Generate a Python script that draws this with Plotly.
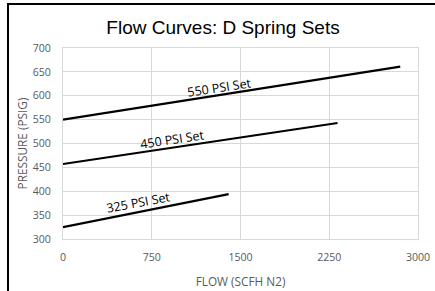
import plotly.graph_objects as go

# Data
flow_550 = [0, 750, 1500, 2250, 2850]
pres_550 = [550, 579, 608, 637, 661]

flow_450 = [0, 750, 1500, 2320]
pres_450 = [457, 485, 513, 543]

flow_325 = [0, 750, 1400]
pres_325 = [325, 362, 394]

x_ticks = [0, 750, 1500, 2250, 3000]
y_ticks = [300, 350, 400, 450, 500, 550, 600, 650, 700]

series_labels = ["550 PSI Set", "450 PSI Set", "325 PSI Set"]
label_x = [1324, 924, 634]
label_y = [618, 508, 377]
label_angle = [-8.5, -8.5, -10.5]

W, H = 435, 291
L, R, T, B = 63, 17, 48, 52
pw, ph = W - L - R, H - T - B

fig = go.Figure()
for xs, ys, name in [(flow_550, pres_550, series_labels[0]),
                     (flow_450, pres_450, series_labels[1]),
                     (flow_325, pres_325, series_labels[2])]:
    fig.add_trace(go.Scatter(x=xs, y=ys, mode="lines", name=name,
                             line=dict(color="black", width=2.2),
                             showlegend=False))

for txt, lx, ly, ang in zip(series_labels, label_x, label_y, label_angle):
    fig.add_annotation(x=lx, y=ly, xref="x", yref="y", text=txt,
                       showarrow=False, textangle=ang,
                       font=dict(family="Open Sans", size=12.5, color="black"))

grid = "#d9d9d9"
tick_font = dict(family="Open Sans", size=10.6, color="#595959")
title_font = dict(family="Open Sans", size=11.8, color="#595959")

fig.update_xaxes(range=[0, 3000], tickvals=x_ticks, ticktext=[str(v) for v in x_ticks],
                 showgrid=True, gridcolor=grid, gridwidth=1,
                 showline=True, linecolor=grid, linewidth=1, mirror=True,
                 zeroline=False, ticks="", ticklabelstandoff=8, automargin=False,
                 tickfont=tick_font,
                 title=dict(text="FLOW (SCFH N2)", font=title_font, standoff=15))
fig.update_yaxes(range=[300, 700], tickvals=y_ticks, ticktext=[str(v) for v in y_ticks],
                 showgrid=True, gridcolor=grid, gridwidth=1,
                 showline=True, linecolor=grid, linewidth=1, mirror=True,
                 zeroline=False, ticks="", ticklabelstandoff=9, automargin=False,
                 tickfont=tick_font,
                 title=dict(text="PRESSURE (PSIG)", font=title_font, standoff=2))

# Outer black border (top and left edges visible in the reference)
def px_to_paper_x(px):
    return (px - L) / pw

def px_to_paper_y(py):
    return (H - B - py) / ph

fig.add_shape(type="line", xref="paper", yref="paper",
              x0=px_to_paper_x(8), x1=px_to_paper_x(W + 2),
              y0=px_to_paper_y(4), y1=px_to_paper_y(4),
              line=dict(color="black", width=2))
fig.add_shape(type="line", xref="paper", yref="paper",
              x0=px_to_paper_x(8), x1=px_to_paper_x(8),
              y0=px_to_paper_y(3), y1=px_to_paper_y(H + 2),
              line=dict(color="black", width=2))

fig.update_layout(
    width=W, height=H,
    margin=dict(l=L, r=R, t=T, b=B, autoexpand=False),
    paper_bgcolor="white", plot_bgcolor="white",
    title=dict(text="Flow Curves: D Spring Sets",
               font=dict(family="Liberation Sans", size=19, color="black"),
               x=223 / W, xref="container", xanchor="center",
               y=1 - 27 / H, yref="container", yanchor="middle"),
)

fig.write_html("out.html",
               config={"displayModeBar": False, "staticPlot": True},
               post_script="document.body.style.margin='0';document.body.style.padding='0';")
